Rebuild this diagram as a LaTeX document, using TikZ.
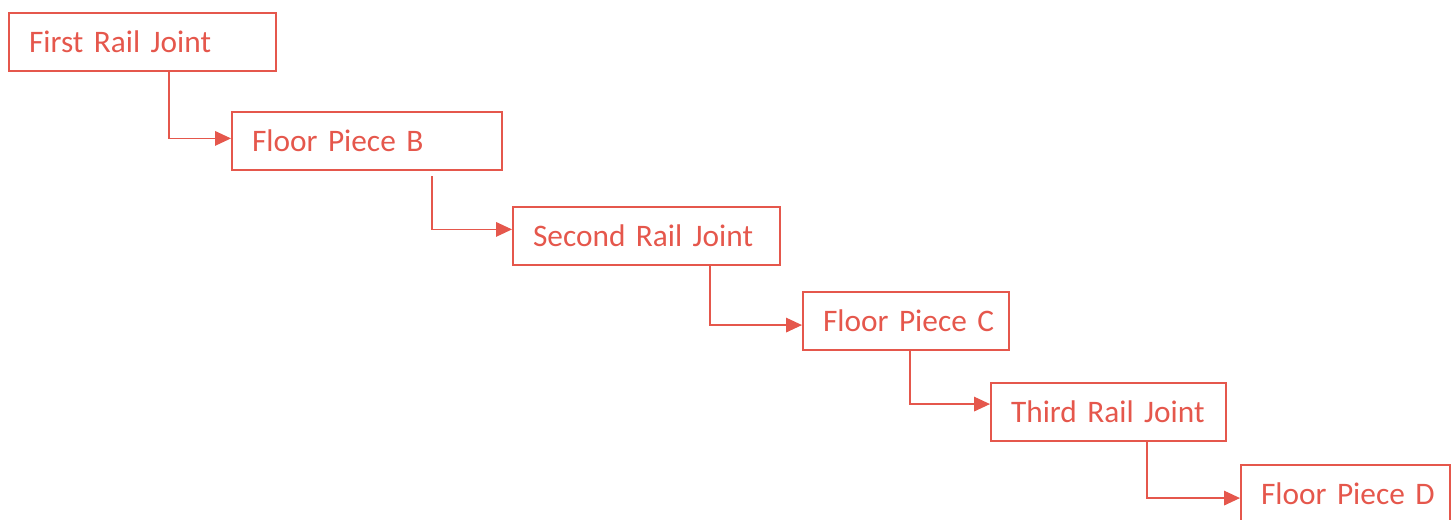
\documentclass[tikz,border=0pt]{standalone}
\usepackage{fontspec}
\setmainfont[WordSpace=0.72]{Carlito}
\usepackage{xcolor}
\usepackage{tikz}
\usetikzlibrary{arrows.meta}
\definecolor{railred}{RGB}{229,87,76}
\tikzstyle{line} = [draw, railred, line width=0.9pt, -{Triangle[length=12pt,width=11pt]}]

\begin{document}
\begin{tikzpicture}[x=0.75pt, y=-0.75pt,
      piece/.style={draw=railred,
      line width=1.6pt,
      text=railred,
      anchor=north west,
      minimum height=43.5pt,
      inner xsep=15pt,
      inner ysep=0pt,
      align=left,
      font=\fontsize{23.5}{28}\selectfont}]
    \useasboundingbox (0,0) rectangle (1453,519);
    %% Rail joints and floor pieces
    \node [piece, text width=170.25pt] at (8,12) (J_1) {First~Rail~Joint};
    \node [piece, text width=172.5pt] at (231,111) (F_B) {Floor~Piece~B};
    \node [piece, text width=170.25pt] at (512,206) (J_2) {Second~Rail~Joint};
    \node [piece, text width=124.5pt] at (802,291) (F_C) {Floor~Piece~C};
    \node [piece, text width=146.25pt] at (990,382) (J_3) {Third~Rail~Joint};
    \node [piece, text width=126.75pt] at (1240,464) (F_D) {Floor~Piece~D};
    %%
    %% Steps
    \path [line] ([xshift=120.75pt]J_1.south west) |- ([yshift=2pt]F_B.west);
    \path [line] ([xshift=150.75pt,yshift=-4pt]F_B.south west) |- ([yshift=5pt]J_2.west);
    \path [line] ([xshift=148.5pt]J_2.south west) |- ([yshift=-3pt]F_C.west);
    \path [line] ([xshift=81pt]F_C.south west) |- ([yshift=6pt]J_3.west);
    \path [line] ([xshift=117.75pt]J_3.south west) |- ([yshift=-3pt]F_D.west);
  \end{tikzpicture}
\end{document}
